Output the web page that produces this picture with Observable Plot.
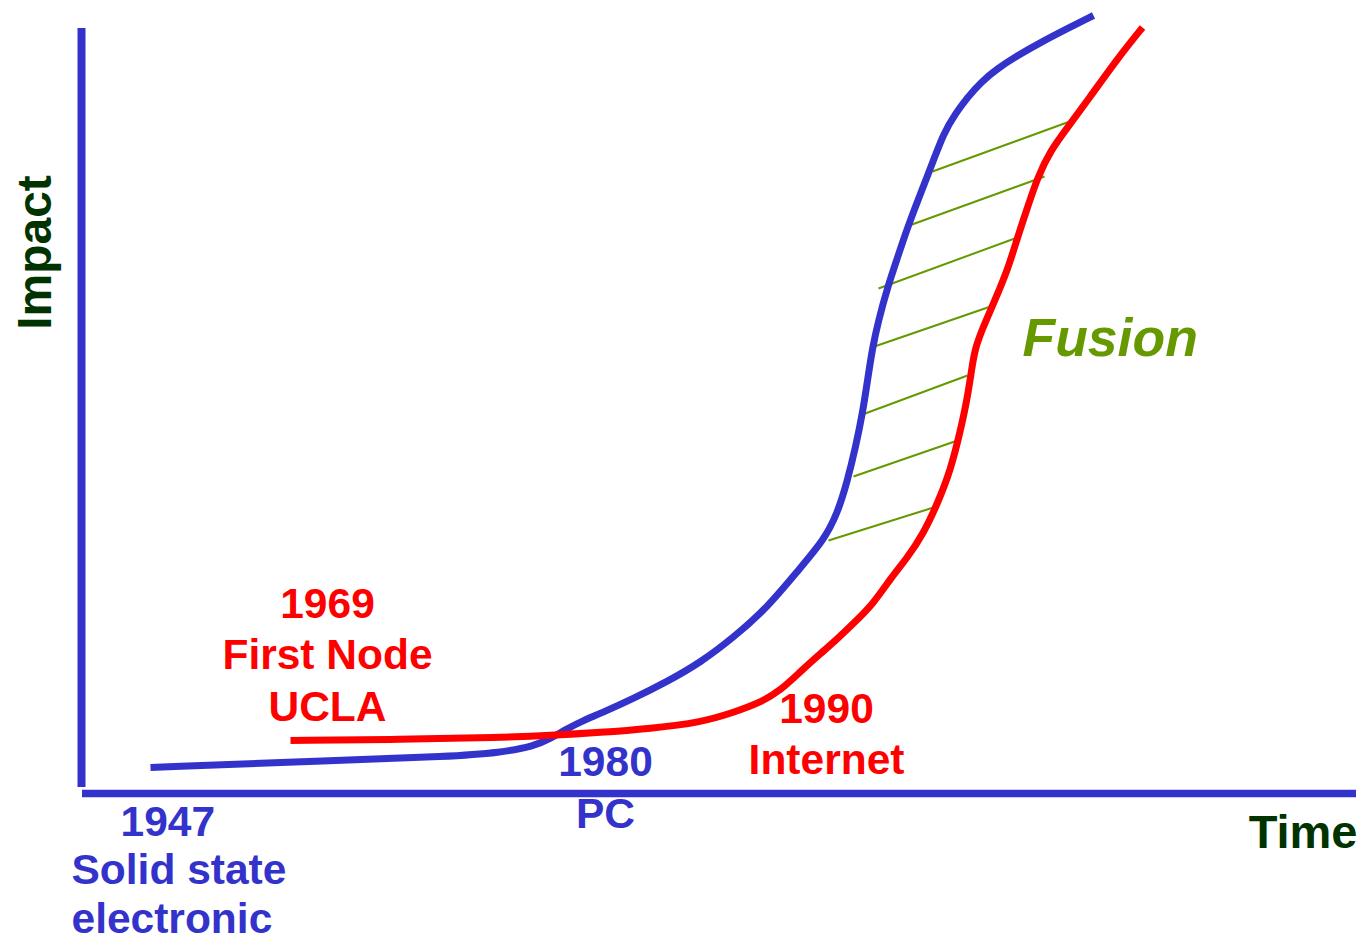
<!DOCTYPE html>
<html>
<head>
<meta charset="utf-8">
<script src="https://cdn.jsdelivr.net/npm/d3@7"></script>
<script src="https://cdn.jsdelivr.net/npm/@observablehq/plot@0.6"></script>
<style>
  html, body { margin: 0; padding: 0; background: #ffffff; }
  #chart svg { display: block; }
</style>
</head>
<body>
<div id="chart"></div>
<script>
// Time / impact units (axes cross at 0,0)
const pcTime   = [69, 252, 369, 419, 452, 469, 486, 502, 519, 552, 586, 619, 652, 686, 719, 742, 756, 766, 774, 781, 786, 791, 797, 806, 816, 826, 839, 852, 862, 874, 886, 899, 916, 936, 959, 986, 1012];
const pcImpact = [26, 33, 37, 41, 47, 55, 65, 73, 80, 95, 112, 131, 156, 186, 226, 253, 280, 313, 346, 380, 413, 446, 473, 506, 536, 566, 600, 633, 660, 680, 696, 711, 725, 738, 751, 765, 778];

const netTime   = [209, 319, 419, 469, 519, 569, 619, 652, 679, 699, 719, 739, 752, 772, 792, 809, 826, 842, 856, 869, 879, 886, 891, 894, 901, 912, 926, 936, 946, 956, 969, 986, 1006, 1036, 1061];
const netImpact = [53, 54, 56, 58, 61, 65, 71, 81, 91, 103, 122, 140, 151, 170, 190, 215, 236, 260, 290, 323, 363, 396, 430, 446, 465, 490, 523, 556, 586, 616, 643, 666, 693, 735, 766];

// Fusion hatch segments
const hatchT1 = [851, 825, 797, 793, 781, 772, 747];
const hatchI1 = [622, 567, 505, 447, 379, 317, 253];
const hatchT2 = [991, 963, 936, 912, 886, 879, 852];
const hatchI2 = [673, 617, 556, 488, 418, 354, 286];

// Axis extents
const timeAxisExtent   = [1, 1275];
const impactAxisExtent = [6, 765];

// Annotations
const labelTexts  = ["1947", "Solid state\nelectronic", "1969\nFirst Node\nUCLA", "1980\nPC", "1990\nInternet"];
const labelTime   = [39, -10, 246, 524, 745];
const labelImpact = [-42, -139, 73, -34, 20];

const fusionLabel = ["Fusion"];
const fusionTime = [941];
const fusionImpact = [438];

const axisTitles = ["Time", "Impact"];
const axisTitleTime = [1276, -31];
const axisTitleImpact = [-54, 541];

// ---- build tables ----
const pc = pcTime.map((t, i) => ({time: t, impact: pcImpact[i]}));
const net = netTime.map((t, i) => ({time: t, impact: netImpact[i]}));
const hatch = hatchT1.map((t, i) => ({t1: t, i1: hatchI1[i], t2: hatchT2[i], i2: hatchI2[i]}));
const labels = labelTexts.map((s, i) => ({text: s, time: labelTime[i], impact: labelImpact[i]}));

const BLUE = "#3333cc", RED = "#ff0000", DKGREEN = "#003300", GREEN = "#669900";
const FONT = "Liberation Sans, Arial, Helvetica, sans-serif";

const labelStyle = [
  {fill: BLUE, textAnchor: "start", lineHeight: 1.14},
  {fill: BLUE, textAnchor: "start", lineHeight: 1.14},
  {fill: RED, textAnchor: "middle", lineHeight: 1.21},
  {fill: BLUE, textAnchor: "middle", lineHeight: 1.22},
  {fill: RED, textAnchor: "middle", lineHeight: 1.2}
];

const chart = Plot.plot({
  width: 1363,
  height: 943,
  margin: 0,
  style: {fontFamily: FONT, background: "#ffffff", overflow: "visible"},
  x: {domain: [-81, 1282], axis: null},
  y: {domain: [-150, 793], axis: null},
  marks: [
    // axes
    Plot.ruleX([0], {y1: impactAxisExtent[0], y2: impactAxisExtent[1], stroke: BLUE, strokeWidth: 8}),
    Plot.ruleY([0], {x1: timeAxisExtent[0], x2: timeAxisExtent[1], stroke: BLUE, strokeWidth: 7.5}),
    // hatching
    Plot.link(hatch, {x1: "t1", y1: "i1", x2: "t2", y2: "i2", stroke: GREEN, strokeWidth: 2}),
    // curves
    Plot.line(pc, {x: "time", y: "impact", stroke: BLUE, strokeWidth: 7, curve: "basis", strokeLinecap: "butt"}),
    Plot.line(net, {x: "time", y: "impact", stroke: RED, strokeWidth: 7, curve: "basis", strokeLinecap: "butt"}),
    // annotations
    ...labels.map((d, i) => Plot.text([d], {
      x: "time", y: "impact", text: "text",
      fill: labelStyle[i].fill, textAnchor: labelStyle[i].textAnchor,
      lineAnchor: "bottom", lineHeight: labelStyle[i].lineHeight,
      fontSize: 42.5, fontWeight: "bold"
    })),
    Plot.text(fusionLabel, {x: () => fusionTime[0], y: () => fusionImpact[0], text: d => d,
      fill: GREEN, fontSize: 53.5, fontWeight: "bold", fontStyle: "italic", textAnchor: "start", lineAnchor: "bottom"}),
    Plot.text([axisTitles[0]], {x: () => axisTitleTime[0], y: () => axisTitleImpact[0], text: d => d,
      fill: DKGREEN, fontSize: 47, fontWeight: "bold", textAnchor: "end", lineAnchor: "bottom"}),
    Plot.text([axisTitles[1]], {x: () => axisTitleTime[1], y: () => axisTitleImpact[1], text: d => d,
      fill: DKGREEN, fontSize: 48, fontWeight: "bold", textAnchor: "middle", lineAnchor: "bottom", rotate: -90})
  ]
});
document.getElementById("chart").appendChild(chart);
</script>
</body>
</html>
